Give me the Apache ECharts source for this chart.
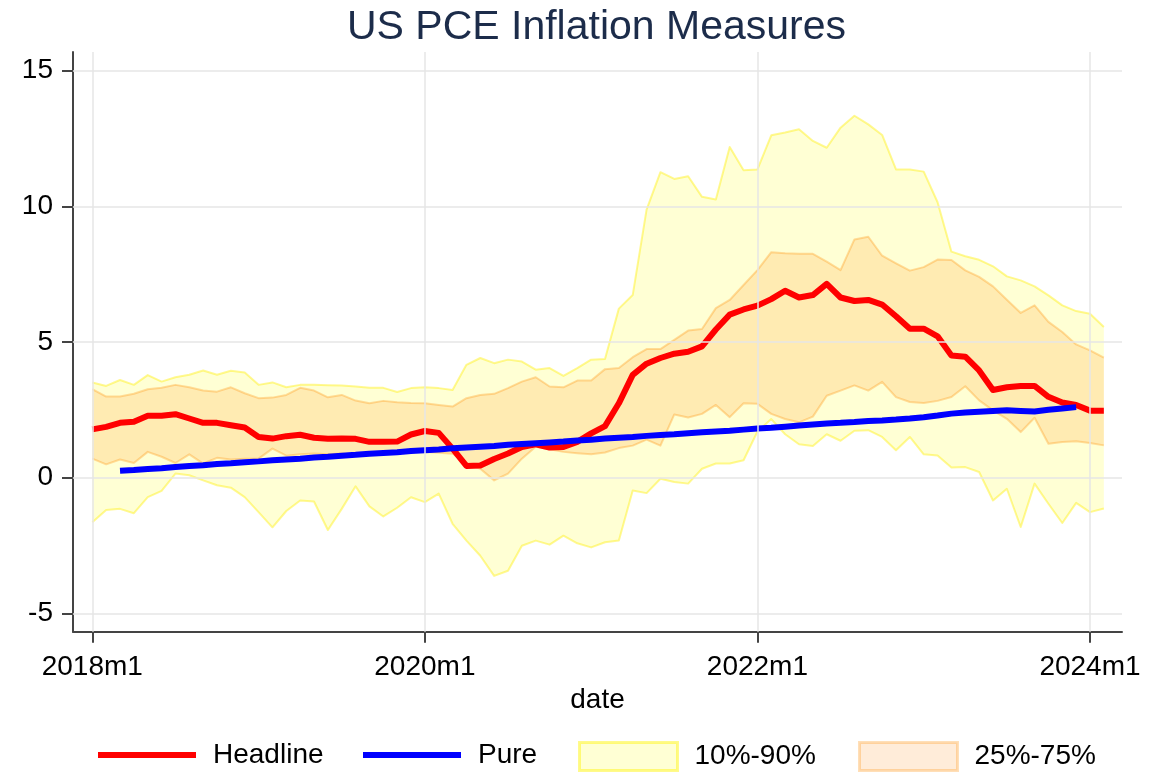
<!DOCTYPE html>
<html>
<head>
<meta charset="utf-8">
<script src="https://cdn.jsdelivr.net/npm/echarts@6/dist/echarts.min.js"></script>
<style>
html,body{margin:0;padding:0;background:#fff;}
#chart{width:1161px;height:772px;}
</style>
</head>
<body>
<div id="chart"></div>
<script>
// ---- data (monthly, 2018m1 .. 2024m2) ----
const dates = [];
for (let y = 2018; y <= 2024; y++) {
  for (let m = 1; m <= 12; m++) {
    if (dates.length < 74) dates.push(y + 'm' + m);
  }
}
const headline = [1.78,1.87,2.02,2.06,2.28,2.28,2.34,2.18,2.02,2.02,1.93,1.85,
  1.50,1.44,1.53,1.58,1.47,1.43,1.44,1.43,1.32,1.32,1.33,1.59,
  1.72,1.65,1.07,0.43,0.45,0.69,0.89,1.13,1.23,1.11,1.13,1.32,
  1.63,1.90,2.74,3.79,4.20,4.41,4.57,4.64,4.84,5.46,6.01,6.20,
  6.34,6.58,6.89,6.64,6.73,7.14,6.64,6.51,6.55,6.38,5.95,5.49,
  5.49,5.21,4.50,4.46,3.95,3.23,3.33,3.38,3.38,2.98,2.77,2.68,
  2.47,2.47];
const pure = [null,null,0.25,0.28,0.32,0.35,0.39,0.43,0.46,0.50,0.53,0.57,
  0.60,0.64,0.67,0.70,0.74,0.77,0.81,0.84,0.88,0.91,0.94,0.98,
  1.01,1.04,1.08,1.11,1.14,1.17,1.21,1.24,1.27,1.30,1.33,1.37,
  1.40,1.44,1.47,1.50,1.54,1.57,1.60,1.64,1.67,1.70,1.73,1.77,
  1.81,1.84,1.88,1.92,1.96,2.00,2.02,2.05,2.09,2.11,2.14,2.18,
  2.23,2.29,2.36,2.40,2.43,2.46,2.48,2.46,2.44,2.50,2.55,2.60,
  null,null];
const p90 = [3.51,3.38,3.60,3.42,3.78,3.54,3.70,3.79,3.95,3.79,3.94,3.88,
  3.42,3.51,3.33,3.42,3.42,3.41,3.40,3.36,3.31,3.31,3.16,3.30,
  3.33,3.30,3.23,4.16,4.41,4.22,4.35,4.28,3.98,4.04,3.75,4.04,
  4.35,4.37,6.23,6.73,9.88,11.26,11.01,11.11,10.35,10.25,12.19,11.33,
  11.36,12.62,12.72,12.84,12.41,12.16,12.90,13.34,13.02,12.63,11.36,11.36,
  11.28,10.15,8.33,8.16,8.03,7.79,7.42,7.27,7.05,6.72,6.35,6.14,
  6.04,5.55];
const p75 = [3.26,2.99,2.99,3.09,3.26,3.31,3.42,3.33,3.21,3.17,3.33,3.11,
  2.93,2.95,3.05,3.31,3.21,2.96,3.05,2.84,2.74,2.83,2.78,2.75,
  2.74,2.68,2.62,2.93,3.05,3.09,3.30,3.54,3.70,3.36,3.33,3.58,
  3.58,4.00,4.04,4.44,4.74,4.74,5.08,5.42,5.48,6.25,6.55,7.10,
  7.65,8.31,8.27,8.25,8.25,7.96,7.65,8.78,8.88,8.18,7.90,7.63,
  7.76,8.04,8.02,7.64,7.40,7.05,6.56,6.07,6.35,5.74,5.37,4.91,
  4.69,4.42];
const p25 = [0.70,0.49,0.67,0.54,0.95,0.77,0.54,0.86,0.52,0.73,0.67,0.70,
  0.70,1.07,0.81,0.86,0.89,0.86,0.89,0.83,0.89,0.86,0.95,0.98,
  0.95,0.92,0.88,0.52,0.33,-0.10,0.15,0.70,1.14,1.05,0.95,0.90,
  0.86,0.93,1.09,1.18,1.40,1.18,2.33,2.22,2.35,2.68,2.23,2.74,
  2.72,2.35,2.16,2.04,2.25,3.02,3.21,3.40,3.21,3.53,2.97,2.79,
  2.75,2.83,2.97,3.37,2.85,2.48,2.17,1.68,2.21,1.25,1.31,1.34,
  1.28,1.19];
const p10 = [-1.64,-1.19,-1.15,-1.31,-0.72,-0.49,0.15,0.09,-0.10,-0.28,-0.37,-0.72,
  -1.27,-1.83,-1.23,-0.84,-0.88,-1.93,-1.15,-0.32,-1.06,-1.43,-1.11,-0.72,
  -0.90,-0.59,-1.70,-2.32,-2.88,-3.62,-3.43,-2.51,-2.32,-2.47,-2.14,-2.42,
  -2.57,-2.38,-2.32,-0.47,-0.57,-0.04,-0.16,-0.22,0.33,0.52,0.52,0.64,
  1.70,2.16,1.60,1.23,1.17,1.60,1.36,1.73,1.75,1.50,1.01,1.50,
  0.86,0.82,0.37,0.39,0.21,-0.84,-0.41,-1.82,-0.22,-0.96,-1.67,-0.93,
  -1.27,-1.14];
const xTickIdx = [0, 24, 48, 72];
const yTicks = [-5, 0, 5, 10, 15];

// ---- build ----
const pairs = arr => arr.map((v, i) => [i, v]);

const FONT = '"Liberation Sans", Arial, sans-serif';
const yellowFill = 'rgba(255,255,0,0.17)';
const yellowEdge = 'rgba(255,238,0,0.42)';
const orangeFill = 'rgba(255,128,0,0.16)';
const orangeEdge = 'rgba(255,140,0,0.30)';
const axisColor = '#444';

function bandSeries(name, hi, lo, fill, edge) {
  return {
    name: name, type: 'custom', coordinateSystem: 'cartesian2d', silent: true, z: 1,
    data: hi.map((v, i) => [i, v, lo[i]]),
    encode: {x: 0, y: [1, 2]},
    itemStyle: {color: fill},
    renderItem: function (params, api) {
      if (params.dataIndex !== 0) return null;
      const top = hi.map((v, i) => api.coord([i, v]));
      const bot = lo.map((v, i) => api.coord([i, v]));
      return {
        type: 'group',
        children: [
          {type: 'polygon', shape: {points: top.concat(bot.slice().reverse())},
            style: {fill: fill, stroke: null}},
          {type: 'polyline', shape: {points: top},
            style: {fill: null, stroke: edge, lineWidth: 2, lineJoin: 'round'}},
          {type: 'polyline', shape: {points: bot},
            style: {fill: null, stroke: edge, lineWidth: 2, lineJoin: 'round'}}
        ]
      };
    }
  };
}

const chart = echarts.init(document.getElementById('chart'), null, {renderer: 'canvas'});

const legendBase = (item, left, iconH) => ({
  left: left, top: 741, padding: 0, orient: 'horizontal',
  itemWidth: 98, itemHeight: iconH, selectedMode: false,
  textStyle: {fontSize: 28, color: '#000', fontFamily: FONT, padding: [0, 0, 0, 12]},
  data: [item]
});

const option = {
  animation: false,
  backgroundColor: '#fff',
  title: {
    text: 'US PCE Inflation Measures',
    left: 347, top: 7, padding: 0,
    textStyle: {fontSize: 41, fontWeight: 'normal', color: '#1c2c4a', fontFamily: FONT}
  },
  legend: [
    legendBase({name: 'Headline', icon: 'rect', itemStyle: {color: '#ff0000', borderWidth: 0}}, 98, 6),
    legendBase({name: 'Pure', icon: 'rect', itemStyle: {color: '#0000ff', borderWidth: 0}}, 363, 6),
    legendBase({name: '10%-90%', icon: 'rect',
      itemStyle: {color: 'rgba(255,255,0,0.17)', borderColor: 'rgba(255,245,0,0.45)', borderWidth: 3}}, 578, 28),
    legendBase({name: '25%-75%', icon: 'rect',
      itemStyle: {color: 'rgba(255,128,0,0.15)', borderColor: 'rgba(255,140,0,0.28)', borderWidth: 3}}, 858, 28)
  ],
  grid: {left: 73, right: 39, top: 52, bottom: 140.3, containLabel: false},
  xAxis: {
    type: 'value', min: -1.393, max: 74.31,
    name: 'date', nameLocation: 'middle', nameGap: 49,
    nameTextStyle: {fontSize: 28, color: '#000', fontFamily: FONT},
    axisLine: {show: true, onZero: false, lineStyle: {color: axisColor, width: 2}},
    axisTick: {show: true, length: 11, lineStyle: {color: axisColor, width: 2}, customValues: xTickIdx},
    axisLabel: {show: true, margin: 22, fontSize: 28, color: '#000', fontFamily: FONT,
      customValues: xTickIdx, formatter: v => dates[Math.round(v)]},
    splitLine: {show: false}
  },
  yAxis: {
    type: 'value', min: -5.678, max: 15.689,
    axisLine: {show: true, onZero: false, lineStyle: {color: axisColor, width: 2}},
    axisTick: {show: true, length: 11, lineStyle: {color: axisColor, width: 2}, customValues: yTicks},
    axisLabel: {show: true, margin: 20, fontSize: 28, color: '#000', fontFamily: FONT,
      customValues: yTicks, formatter: v => String(v)},
    splitLine: {show: false}
  },
  series: [
    {
      name: 'gridlines', type: 'line', data: pairs(headline), silent: true, z: 0,
      symbol: 'none', lineStyle: {opacity: 0}, tooltip: {show: false},
      markLine: {
        silent: true, symbol: 'none', animation: false, label: {show: false},
        lineStyle: {color: '#e6e6e6', width: 1.5, type: 'solid'},
        data: yTicks.map(v => ({yAxis: v})).concat(xTickIdx.map(v => ({xAxis: v})))
      }
    },
    bandSeries('10%-90%', p90, p10, yellowFill, yellowEdge),
    bandSeries('25%-75%', p75, p25, orangeFill, orangeEdge),
    {
      name: 'Headline', type: 'line', data: pairs(headline), symbol: 'none', z: 3,
      color: '#ff0000', lineStyle: {color: '#ff0000', width: 6, join: 'round'}
    },
    {
      name: 'Pure', type: 'line', data: pairs(pure), symbol: 'none', z: 4,
      color: '#0000ff', lineStyle: {color: '#0000ff', width: 6}
    }
  ]
};
chart.setOption(option);
</script>
</body>
</html>
